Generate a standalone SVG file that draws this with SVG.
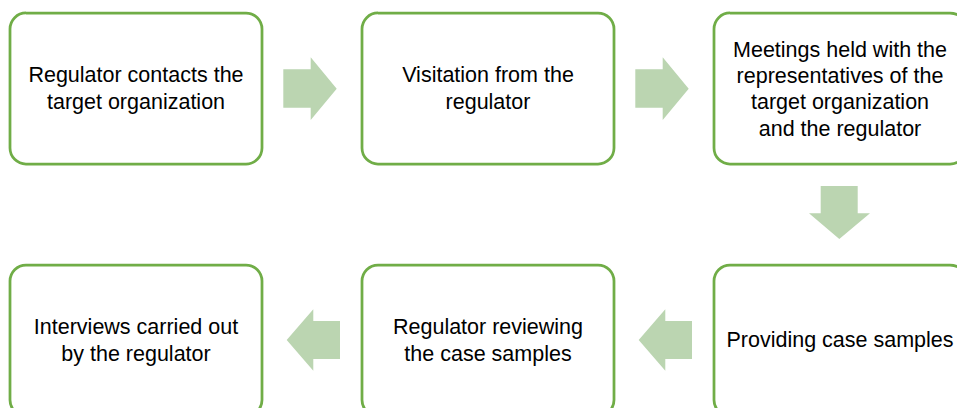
<svg xmlns="http://www.w3.org/2000/svg" width="957" height="408" viewBox="0 0 957 408">
<style>
.box{fill:#fff;stroke:#70ad47;stroke-width:2.75}
.arr{fill:#bbd5b1}
text{font-family:"Liberation Sans","Open Sans",sans-serif;font-size:21.5px;fill:#000;text-anchor:middle}
</style>
<rect width="957" height="408" fill="#fff"/>
<g id="connectors">
<polygon class="arr" points="283.3,69.3 310.7,69.3 310.7,57.3 336.7,88.7 310.7,120 310.7,107.7 283.3,107.7"/>
<polygon class="arr" points="635.3,69.3 662.7,69.3 662.7,57.3 688.7,88.7 662.7,120 662.7,107.7 635.3,107.7"/>
<polygon class="arr" points="820.7,186 857.7,186 857.7,213.3 870,213.3 839.3,239 809,213.3 820.7,213.3"/>
<polygon class="arr" points="692,321 665.3,321 665.3,309.3 638.7,340 665.3,370.7 665.3,359 692,359"/>
<polygon class="arr" points="340,321 313.3,321 313.3,309.3 286.7,340 313.3,370.7 313.3,359 340,359"/>
</g>
<g id="n1"><rect class="box" x="10" y="13" width="252" height="151" rx="16"/>
<text x="136" y="82">Regulator contacts the</text><text x="136" y="108.5">target organization</text></g>
<g id="n2"><rect class="box" x="362" y="13" width="252" height="151" rx="16"/>
<text x="488" y="82">Visitation from the</text><text x="488" y="108.5">regulator</text></g>
<g id="n3"><rect class="box" x="714" y="13" width="252" height="151" rx="16"/>
<text x="840" y="56.5">Meetings held with the</text><text x="840" y="83">representatives of the</text><text x="840" y="109">target organization</text><text x="840" y="135.5">and the regulator</text></g>
<g id="n4"><rect class="box" x="714" y="265" width="252" height="151" rx="16"/>
<text x="840" y="347">Providing case samples</text></g>
<g id="n5"><rect class="box" x="362" y="265" width="252" height="151" rx="16"/>
<text x="488" y="334">Regulator reviewing</text><text x="488" y="360.5">the case samples</text></g>
<g id="n6"><rect class="box" x="10" y="265" width="252" height="151" rx="16"/>
<text x="136" y="334">Interviews carried out</text><text x="136" y="360.5">by the regulator</text></g>
</svg>
